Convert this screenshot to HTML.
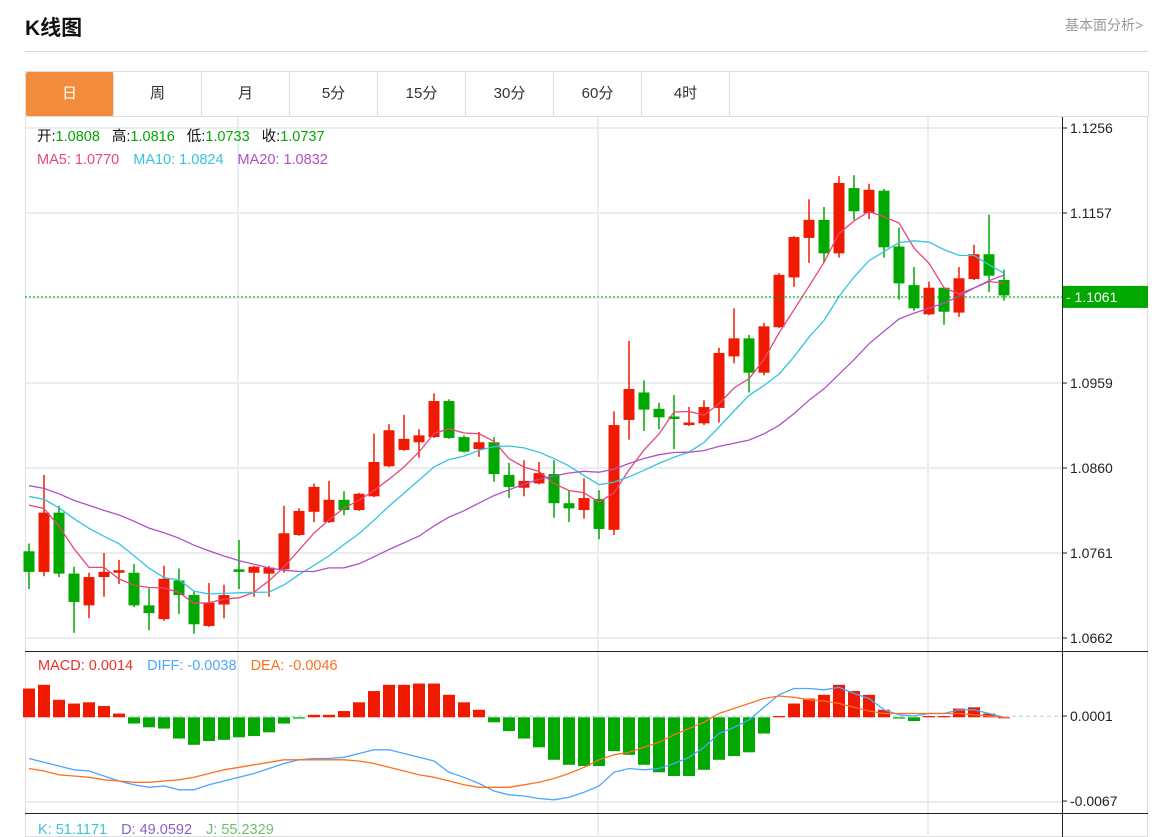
<!DOCTYPE html>
<html><head><meta charset="utf-8">
<style>
body{margin:0;width:1163px;height:837px;background:#fff;overflow:hidden;font-family:"Liberation Sans","Noto Sans CJK SC",sans-serif;position:relative}
#title{position:absolute;left:25px;top:12px;font-size:21px;font-weight:bold;color:#111}
#more{position:absolute;left:1065px;top:15px;font-size:14px;color:#999}
#divider{position:absolute;left:25px;top:51px;width:1123px;height:1px;background:#d6d6d6}
#tabs{position:absolute;left:25px;top:71px;width:1122px;height:44px;border:1px solid #ddd;display:flex}
.tab{width:87px;border-right:1px solid #ddd;text-align:center;line-height:44px;font-size:15px;color:#333}
.tab.on{background:#f28c3c;color:#fff;border-radius:2px}
svg{position:absolute;left:0;top:0}
</style></head><body>
<div id="title">K线图</div>
<div id="more">基本面分析&gt;</div>
<div id="divider"></div>
<div id="tabs">
<div class="tab on">日</div>
<div class="tab">周</div>
<div class="tab">月</div>
<div class="tab">5分</div>
<div class="tab">15分</div>
<div class="tab">30分</div>
<div class="tab">60分</div>
<div class="tab">4时</div>
</div>
<svg id="chart" width="1163" height="837"></svg>
<script>
const opens=[1.0763,1.0739,1.0808,1.0737,1.0700,1.0733,1.0738,1.0738,1.0700,1.0684,1.0729,1.0712,1.0676,1.0701,1.0742,1.0738,1.0737,1.0742,1.0782,1.0809,1.0797,1.0823,1.0811,1.0827,1.0862,1.0881,1.0890,1.0896,1.0938,1.0896,1.0882,1.0890,1.0852,1.0837,1.0842,1.0853,1.0819,1.0811,1.0824,1.0788,1.0916,1.0948,1.0929,1.0920,1.0910,1.0912,1.0930,1.0990,1.1011,1.0971,1.1024,1.1082,1.1128,1.1149,1.1110,1.1186,1.1157,1.1183,1.1118,1.1073,1.1039,1.1070,1.1041,1.1080,1.1109,1.1079];
const highs=[1.0772,1.0852,1.0816,1.0745,1.0738,1.0761,1.0753,1.0748,1.0720,1.0746,1.0743,1.0717,1.0726,1.0724,1.0776,1.0746,1.0746,1.0816,1.0813,1.0842,1.0845,1.0833,1.0831,1.0900,1.0911,1.0922,1.0905,1.0947,1.0940,1.0898,1.0902,1.0896,1.0866,1.0869,1.0867,1.0869,1.0834,1.0848,1.0834,1.0926,1.1008,1.0962,1.0936,1.0945,1.0931,1.0939,1.1000,1.1046,1.1015,1.1029,1.1087,1.1130,1.1173,1.1164,1.1200,1.1201,1.1191,1.1185,1.1140,1.1094,1.1077,1.1070,1.1094,1.1120,1.1155,1.1091];
const lows=[1.0719,1.0734,1.0733,1.0668,1.0685,1.0710,1.0725,1.0698,1.0671,1.0682,1.0690,1.0667,1.0675,1.0685,1.0719,1.0710,1.0710,1.0738,1.0781,1.0797,1.0796,1.0805,1.0810,1.0826,1.0861,1.0880,1.0872,1.0895,1.0894,1.0878,1.0873,1.0844,1.0825,1.0827,1.0841,1.0802,1.0797,1.0801,1.0777,1.0782,1.0893,1.0903,1.0905,1.0882,1.0909,1.0910,1.0913,1.0982,1.0948,1.0968,1.1023,1.1071,1.1099,1.1099,1.1105,1.1149,1.1150,1.1105,1.1056,1.1043,1.1038,1.1027,1.1036,1.1079,1.1065,1.1055];
const closes=[1.0739,1.0808,1.0737,1.0704,1.0733,1.0739,1.0741,1.0700,1.0691,1.0731,1.0712,1.0678,1.0703,1.0712,1.0739,1.0745,1.0744,1.0784,1.0810,1.0838,1.0823,1.0811,1.0830,1.0867,1.0904,1.0894,1.0898,1.0938,1.0895,1.0879,1.0890,1.0853,1.0838,1.0845,1.0854,1.0819,1.0813,1.0825,1.0789,1.0910,1.0952,1.0928,1.0919,1.0917,1.0913,1.0931,1.0994,1.1011,1.0971,1.1025,1.1085,1.1129,1.1149,1.1110,1.1192,1.1159,1.1184,1.1117,1.1075,1.1046,1.1070,1.1042,1.1081,1.1109,1.1084,1.1061];
const priorCloses=[1.0870,1.0862,1.0858,1.0850,1.0855,1.0848,1.0845,1.0852,1.0840,1.0838,1.0842,1.0836,1.0830,1.0845,1.0832,1.0828,1.0840,1.0835,1.0842];
const macdBars=[0.0023,0.0026,0.0014,0.0011,0.0012,0.0009,0.0003,-0.0005,-0.0008,-0.0009,-0.0017,-0.0022,-0.0019,-0.0018,-0.0016,-0.0015,-0.0012,-0.0005,-0.0001,0.0002,0.0002,0.0005,0.0012,0.0021,0.0026,0.0026,0.0027,0.0027,0.0018,0.0012,0.0006,-0.0004,-0.0011,-0.0017,-0.0024,-0.0034,-0.0038,-0.0039,-0.0039,-0.0027,-0.0030,-0.0038,-0.0044,-0.0047,-0.0047,-0.0042,-0.0034,-0.0031,-0.0028,-0.0013,0.0001,0.0011,0.0015,0.0018,0.0026,0.0021,0.0018,0.0006,-0.0001,-0.0003,0.0001,0.0001,0.0007,0.0008,0.0003,0.0000];
const diff=[-0.0033,-0.0036,-0.0039,-0.0042,-0.0043,-0.0047,-0.0051,-0.0054,-0.0056,-0.0055,-0.0058,-0.0058,-0.0054,-0.0051,-0.0048,-0.0045,-0.0041,-0.0037,-0.0034,-0.0033,-0.0033,-0.0032,-0.0029,-0.0026,-0.0026,-0.0029,-0.0032,-0.0035,-0.0044,-0.0048,-0.0053,-0.0059,-0.0062,-0.0063,-0.0065,-0.0066,-0.0064,-0.0060,-0.0055,-0.0044,-0.0041,-0.0042,-0.0041,-0.0037,-0.0032,-0.0024,-0.0013,-0.0008,-0.0002,0.0008,0.0018,0.0023,0.0023,0.0022,0.0024,0.0019,0.0015,0.0006,0.0002,0.0001,0.0003,0.0003,0.0006,0.0006,0.0003,0.0000];
const dea=[-0.0041,-0.0043,-0.0046,-0.0047,-0.0048,-0.0050,-0.0051,-0.0052,-0.0052,-0.0051,-0.0050,-0.0048,-0.0045,-0.0042,-0.0040,-0.0038,-0.0036,-0.0034,-0.0034,-0.0034,-0.0034,-0.0034,-0.0035,-0.0037,-0.0040,-0.0043,-0.0046,-0.0048,-0.0051,-0.0054,-0.0056,-0.0056,-0.0056,-0.0054,-0.0052,-0.0049,-0.0045,-0.0040,-0.0034,-0.0030,-0.0028,-0.0024,-0.0020,-0.0014,-0.0009,-0.0004,0.0003,0.0007,0.0011,0.0015,0.0017,0.0016,0.0014,0.0013,0.0011,0.0008,0.0005,0.0003,0.0003,0.0003,0.0003,0.0003,0.0003,0.0002,0.0001,0.0000];
const priceTicks=[1.1256,1.1157,1.0959,1.0860,1.0761,1.0662];
const macdTicks=[0.0001,-0.0067];
const lastPrice=1.1061;

const NS='http://www.w3.org/2000/svg';
const svg=document.getElementById('chart');
function el(tag,attrs,parent){const e=document.createElementNS(NS,tag);for(const k in attrs)e.setAttribute(k,attrs[k]);(parent||svg).appendChild(e);return e;}
const xOf=i=>29+i*15;
const yP=p=>128+(1.1256-p)*(510/0.0594);
const yM=v=>717.3-v*12500;
const RED='#f01a00',GREEN='#00a800';

// frame
let f=el('rect',{x:25.5,y:116.5,width:1122,height:720,fill:'none',stroke:'#ddd'});


// grids
[128,213,298,383,468,553,638,802].forEach(y=>{const g=el('line',{x1:26,x2:1062,y1:y,y2:y,stroke:'#e8eef4','stroke-width':2});

});
[238,598,928].forEach(x=>{const g=el('line',{x1:x,x2:x,y1:117,y2:837,stroke:'#e8eef4','stroke-width':2});

});
// axis
let ax=el('line',{x1:1062.5,x2:1062.5,y1:117,y2:837,stroke:'#222'});


[651.5,813.5].forEach(y=>{const s=el('line',{x1:25,x2:1148,y1:y,y2:y,stroke:'#222'});

});
priceTicks.forEach(p=>{const y=yP(p);
el('line',{x1:1062,x2:1067,y1:y,y2:y,stroke:'#222'});
const t=el('text',{x:1070,y:y+5,'font-size':14,fill:'#222'});t.textContent=p.toFixed(4);

});
macdTicks.forEach(v=>{const y=yM(v);
el('line',{x1:1062,x2:1067,y1:y,y2:y,stroke:'#222'});
const t=el('text',{x:1070,y:y+5,'font-size':14,fill:'#222'});t.textContent=v.toFixed(4);

});
// candles
for(let i=0;i<opens.length;i++){
 const up=closes[i]>=opens[i];const c=up?RED:GREEN;const x=xOf(i);
 const g=el('g',{});
 
 
 el('line',{x1:x,x2:x,y1:yP(highs[i]),y2:yP(lows[i]),stroke:c,'stroke-width':1.5},g);
 const t=yP(Math.max(opens[i],closes[i])),b=yP(Math.min(opens[i],closes[i]));
 el('rect',{x:x-5.5,y:t,width:11,height:Math.max(b-t,2),fill:c},g);
}
// MAs
const all=priorCloses.concat(closes);
function ma(n){const out=[];for(let i=0;i<closes.length;i++){const j=i+priorCloses.length;let s=0;for(let k=j-n+1;k<=j;k++)s+=all[k];out.push(s/n);}return out;}
[[5,'#e8467c','ma5-line'],[10,'#35c4e0','ma10-line'],[20,'#b050c8','ma20-line']].forEach(([n,c,name])=>{
 const m=ma(n);const pl=el('polyline',{points:m.map((v,i)=>xOf(i)+','+yP(v).toFixed(1)).join(' '),fill:'none',stroke:c,'stroke-width':1.3});
 
 });
// last price
const ly=yP(lastPrice)+1.5;
let dl=el('line',{x1:25,x2:1062,y1:ly,y2:ly,stroke:GREEN,'stroke-dasharray':'2,2'});


let lb=el('rect',{x:1063,y:ly-11,width:85,height:22,fill:GREEN});


let lt=el('text',{x:1066,y:ly+5,'font-size':14,fill:'#fff'});lt.textContent='- '+lastPrice.toFixed(4);


// MACD
let zl=el('line',{x1:25,x2:1062,y1:yM(0)-1,y2:yM(0)-1,stroke:'#a8d4ea','stroke-dasharray':'4,3'});


macdBars.forEach((v,i)=>{const y0=yM(0),y1=yM(v);
 const r=el('rect',{x:xOf(i)-6,y:Math.min(y0,y1),width:12,height:Math.max(Math.abs(y1-y0),1),fill:v>=0?RED:GREEN});
 
 });
[[diff,'#4da6ff','diff-line'],[dea,'#ff7020','dea-line']].forEach(([arr,c,name])=>{
 const pl=el('polyline',{points:arr.map((v,i)=>xOf(i)+','+yM(v).toFixed(1)).join(' '),fill:'none',stroke:c,'stroke-width':1.3});
 
 });
// legends
function legend(x,y,parts,name){const t=el('text',{x:x,y:y,'font-size':14.5});
 
 
 parts.forEach(([s,c,dx])=>{const sp=el('tspan',{fill:c},t);if(dx)sp.setAttribute('dx',dx);sp.textContent=s;});}
legend(37,141,[['开:','#111'],['1.0808',GREEN],['高:','#111',12],['1.0816',GREEN],['低:','#111',12],['1.0733',GREEN],['收:','#111',12],['1.0737',GREEN]],'ohlc-legend');
legend(37,164,[['MA5: 1.0770','#e8467c'],['MA10: 1.0824','#35c4e0',14],['MA20: 1.0832','#b050c8',14]],'ma-legend');
legend(38,670,[['MACD: 0.0014','#e8322a'],['DIFF: -0.0038','#4da6ff',14],['DEA: -0.0046','#ff7020',14]],'macd-legend');
legend(38,834,[['K: 51.1171','#3cc4d8'],['D: 49.0592','#8a5fc5',14],['J: 55.2329','#6cbf6c',14]],'kdj-legend');
</script>
</body></html>
